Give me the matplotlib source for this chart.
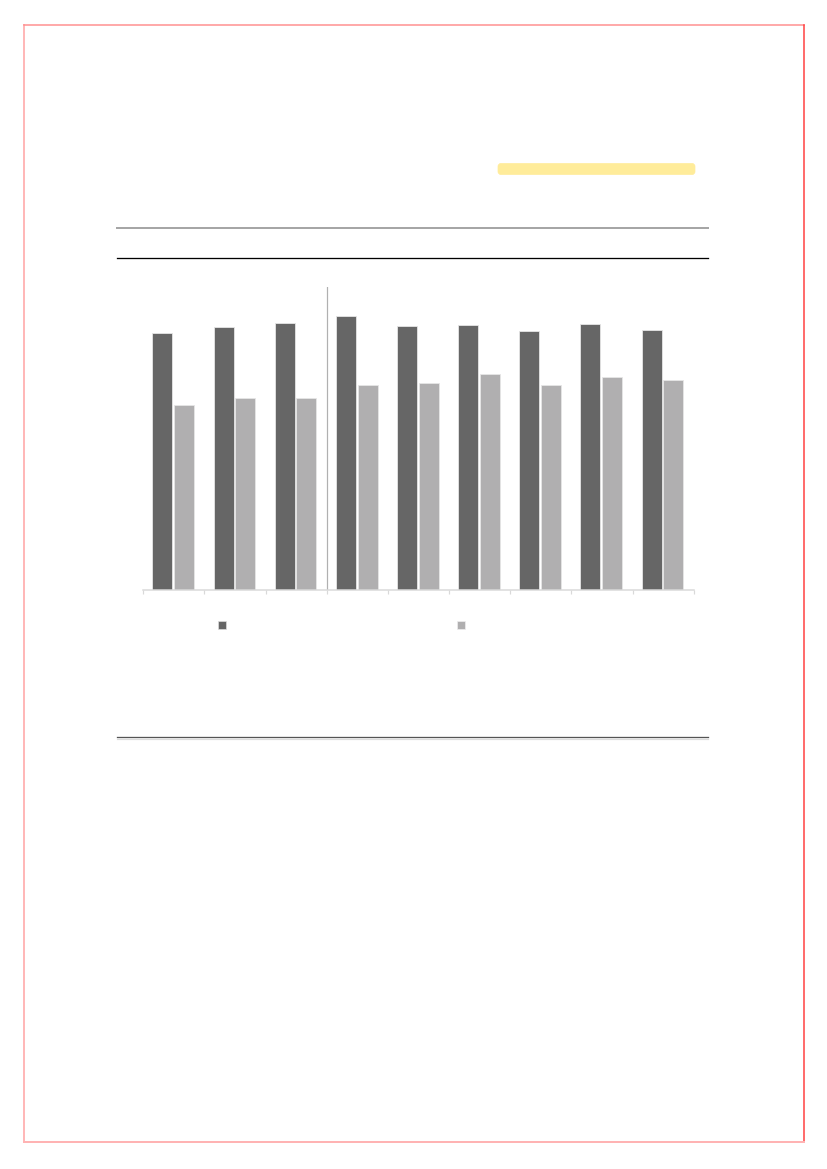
import numpy as np
import matplotlib.pyplot as plt
from matplotlib.patches import FancyBboxPatch
from matplotlib.lines import Line2D

# bar values (no axis labels are shown, scale is 0-100)
groups = list(range(9))
series_dark = [85.4, 87.5, 88.8, 91.3, 87.8, 88.1, 86.1, 88.4, 86.6]
series_light = [61.5, 63.9, 63.9, 68.1, 68.8, 71.8, 68.1, 70.9, 69.9]
split_after = 3  # vertical divider sits between group 3 and group 4

dark_col = "#666666"
light_col = "#b0afb0"

W, H = 827, 1169
fig = plt.figure(figsize=(W / 100, H / 100), dpi=100)
fig.patch.set_facecolor("white")

# page decoration layer, in pixel units
page = fig.add_axes([0, 0, 1, 1])
page.set_xlim(0, W)
page.set_ylim(H, 0)
page.axis("off")

px = 0.72  # one pixel in points
page.add_line(Line2D([24, 24], [25, 1142], color="#ffb8b8", lw=2 * px))
page.add_line(Line2D([24, 804], [25, 25], color="#ff8f8f", lw=1.5 * px))
page.add_line(Line2D([804, 804], [25, 1142], color="#ff3d3d", lw=1.5 * px))
page.add_line(Line2D([24, 804], [1142, 1142], color="#ffb3b3", lw=2 * px))

page.add_patch(FancyBboxPatch((498, 163.5), 197, 11,
                              boxstyle="round,pad=0,rounding_size=3",
                              facecolor="#ffec9a", edgecolor="#ffec9a", lw=0.5))

page.add_line(Line2D([117, 708], [228, 228], color="#a6a6a6", lw=2 * px))
page.add_line(Line2D([117, 708], [258, 258], color="black", lw=1.3 * px))
page.add_line(Line2D([117, 708], [737, 737], color="#555555", lw=1.3 * px))
page.add_line(Line2D([117, 708], [738.8, 738.8], color="#dddddd", lw=1.2 * px))

# legend swatches (no text in the reference)
page.scatter([221.5], [625.3], marker="s", s=26, color=dark_col, edgecolors="#dddddd", linewidths=0.5)
page.scatter([460.5], [625.3], marker="s", s=26, color=light_col, edgecolors="#eeeeee", linewidths=0.5)

# chart
left, right = 143.3, 693.7
bottom, top = 589.5, 287
ax = fig.add_axes([left / W, 1 - bottom / H, (right - left) / W, (bottom - top) / H])
ax.patch.set_alpha(0)

x = np.array(groups)
off = 0.178
bw = 0.327
ax.bar(x - off - 0.01, series_dark, width=bw, color=dark_col, edgecolor="#e6e6e6", linewidth=0.6, zorder=2)
ax.bar(x + off - 0.01, series_light, width=bw, color=light_col, edgecolor="#e6e6e6", linewidth=0.6, zorder=2)

ax.set_xlim(-0.5, len(groups) - 0.5)
ax.set_ylim(0, (bottom - top) / 3)
ax.axvline(split_after - 0.5, ymin=0, ymax=1, color="#b0b0b0", lw=1.2 * px, zorder=1)

for s in ["top", "right", "left"]:
    ax.spines[s].set_visible(False)
ax.spines["bottom"].set_color("#d9d9d9")
ax.spines["bottom"].set_linewidth(1.5 * px)
ax.set_xticks(np.arange(-0.5, len(groups), 1.0))
ax.set_xticklabels([])
ax.set_yticks([])
ax.tick_params(axis="x", direction="out", length=3, width=1.2 * px, color="#d9d9d9")

fig.savefig("out.png", dpi=100)
